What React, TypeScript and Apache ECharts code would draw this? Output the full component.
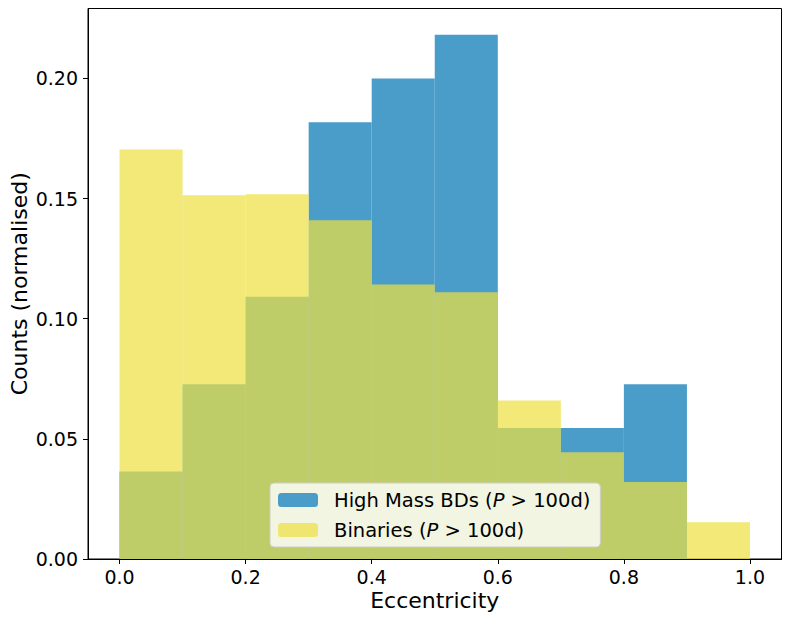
import React, { useEffect, useRef } from "react";
import * as echarts from "echarts";

const binEdges = [0.0, 0.1, 0.2, 0.3, 0.4, 0.5, 0.6, 0.7, 0.8, 0.9, 1.0];
const highMassBDs = [0.0364, 0.0727, 0.1091, 0.1818, 0.2, 0.2182, 0.0545, 0.0545, 0.0727, 0.0];
const binaries = [0.1704, 0.1514, 0.1518, 0.141, 0.1142, 0.111, 0.066, 0.0444, 0.032, 0.0153];
const xTicks = [0.0, 0.2, 0.4, 0.6, 0.8, 1.0];
const yTicks = [0.0, 0.05, 0.1, 0.15, 0.2];
const seriesNames = ["High Mass BDs", "Binaries"];

const FONT = "DejaVu Sans";
const BLUE = "#4a9cc9";
const YELLOW = "rgba(237,224,68,0.72)";

function toBins(values: number[]) {
  return values.map((v, i) => [binEdges[i], binEdges[i + 1], v]);
}

function makeRender(color: string) {
  return (params: any, api: any) => {
    const x0 = api.value(0);
    const x1 = api.value(1);
    const y = api.value(2);
    const p0 = api.coord([x0, y]);
    const p1 = api.coord([x1, 0]);
    return {
      type: "rect",
      shape: { x: p0[0], y: p0[1], width: p1[0] - p0[0], height: p1[1] - p0[1] },
      style: { fill: color },
    };
  };
}

export default function App() {
  const ref = useRef<HTMLDivElement>(null);
  useEffect(() => {
    document.body.style.margin = "0";
    if (!ref.current) return;
    const chart = echarts.init(ref.current, null, { renderer: "svg" });
    const yMax = Math.max(...highMassBDs, ...binaries) * 1.05;
    chart.setOption({
      animation: false,
      backgroundColor: "#ffffff",
      grid: {
        left: 88,
        right: 8.5,
        top: 8.5,
        bottom: 64,
        show: true,
        borderColor: "#000",
        borderWidth: 1,
        backgroundColor: "transparent",
        containLabel: false,
        outerBoundsMode: "none",
      },
      xAxis: {
        type: "value",
        min: -0.05,
        max: 1.05,
        name: "Eccentricity",
        nameLocation: "middle",
        nameGap: 30,
        nameMoveOverlap: false,
        nameTextStyle: { fontFamily: FONT, fontSize: 22, color: "#000" },
        splitLine: { show: false },
        axisLine: { show: true, onZero: false, lineStyle: { color: "#000", width: 1 } },
        axisTick: { show: true, length: 5, lineStyle: { color: "#000" }, customValues: xTicks },
        axisLabel: {
          customValues: xTicks,
          formatter: (v: number) => v.toFixed(1),
          fontFamily: FONT,
          fontSize: 19,
          color: "#000",
          margin: 8,
        },
      },
      yAxis: {
        type: "value",
        min: 0,
        max: yMax,
        name: "Counts (normalised)",
        nameLocation: "middle",
        nameGap: 58,
        nameMoveOverlap: false,
        nameTextStyle: { fontFamily: FONT, fontSize: 22, color: "#000" },
        splitLine: { show: false },
        axisLine: { show: true, onZero: false, lineStyle: { color: "#000", width: 1 } },
        axisTick: { show: true, length: 5, lineStyle: { color: "#000" }, customValues: yTicks },
        axisLabel: {
          customValues: yTicks,
          formatter: (v: number) => v.toFixed(2),
          fontFamily: FONT,
          fontSize: 19,
          color: "#000",
          margin: 10,
        },
      },
      legend: {
        orient: "vertical",
        left: 270,
        top: 483,
        itemWidth: 40,
        itemHeight: 14,
        itemGap: 10,
        backgroundColor: "rgba(255,255,255,0.8)",
        borderColor: "#cccccc",
        borderWidth: 1,
        borderRadius: 4,
        padding: [7, 10, 7, 8],
        data: seriesNames,
        formatter: (name: string) => `{n|${name} (}{i|P}{n| > 100d)}`,
        textStyle: {
          fontFamily: FONT,
          fontSize: 19.5,
          color: "#000",
          padding: [0, 0, 0, 11],
          rich: {
            n: { fontFamily: FONT, fontSize: 19.5, color: "#000", lineHeight: 20 },
            i: { fontFamily: FONT, fontSize: 19.5, color: "#000", fontStyle: "italic", lineHeight: 20 },
          },
        },
      },
      series: [
        {
          name: seriesNames[0],
          type: "custom",
          renderItem: makeRender(BLUE),
          itemStyle: { color: BLUE },
          encode: { x: [0, 1], y: 2 },
          data: toBins(highMassBDs),
          z: 2,
        },
        {
          name: seriesNames[1],
          type: "custom",
          renderItem: makeRender(YELLOW),
          itemStyle: { color: YELLOW },
          encode: { x: [0, 1], y: 2 },
          data: toBins(binaries),
          z: 3,
        },
      ],
    });
    return () => chart.dispose();
  }, []);
  return <div ref={ref} style={{ width: 790, height: 623 }} />;
}
